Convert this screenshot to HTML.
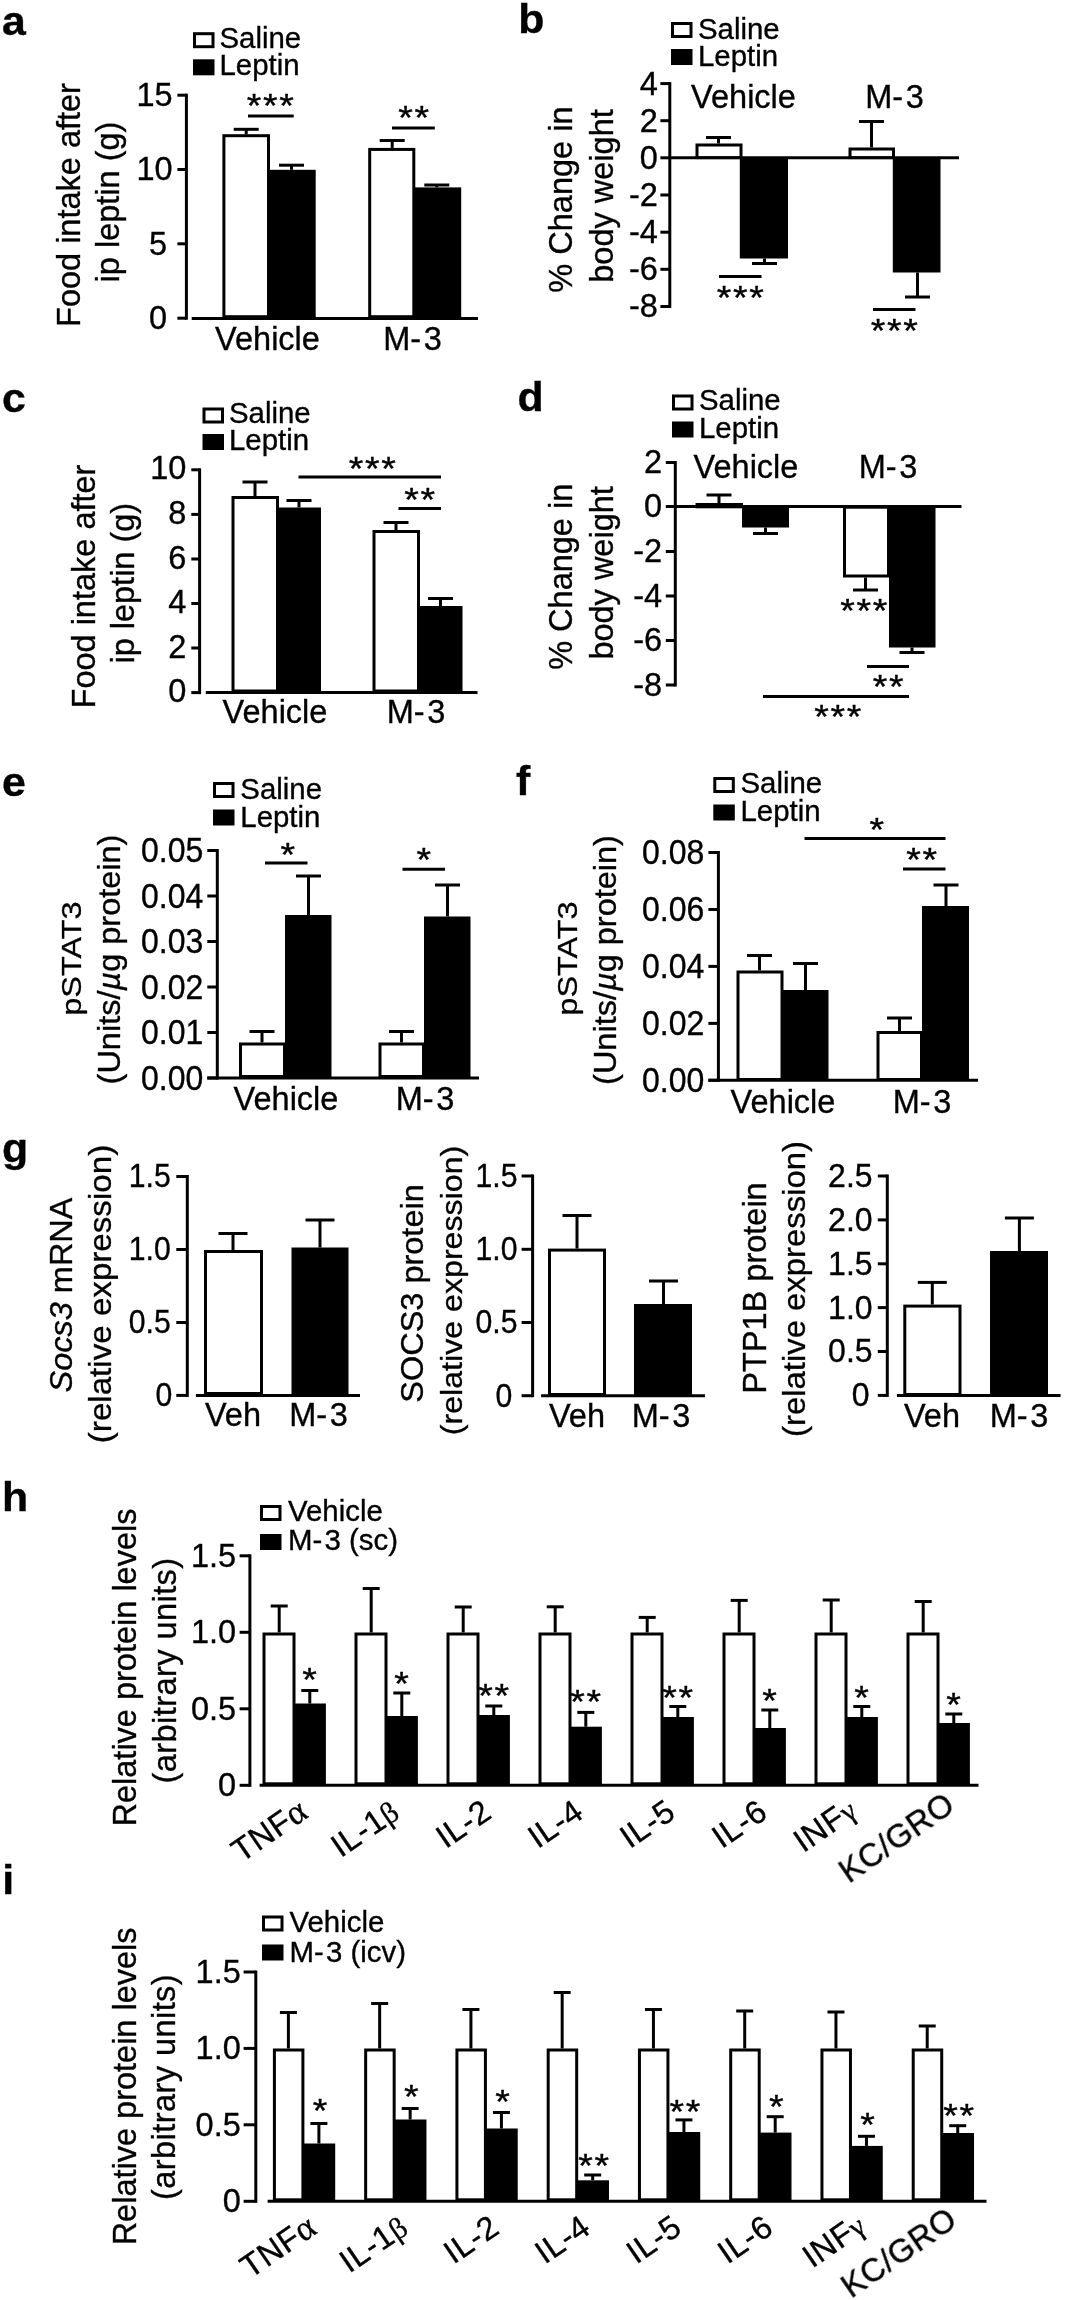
<!DOCTYPE html>
<html><head><meta charset="utf-8"><title>Figure</title>
<style>
html,body{margin:0;padding:0;background:#fff;}
svg{display:block;}
text{stroke:#000;stroke-width:0.35px;font-family:"Liberation Sans","DejaVu Sans",sans-serif;fill:#000;}
line{stroke:#000;stroke-linecap:butt;}
</style></head><body>
<svg width="1065" height="2300" viewBox="0 0 1065 2300">
<defs><filter id="soft" x="0" y="0" width="1065" height="2300" filterUnits="userSpaceOnUse"><feGaussianBlur stdDeviation="0.55"/></filter></defs>
<rect x="0" y="0" width="1065" height="2300" fill="#fff"/>
<g filter="url(#soft)">
<text transform="translate(2.00,34.50) scale(1.07,1)" font-size="40" text-anchor="start" font-weight="bold">a</text>
<rect x="194.50" y="33.70" width="18.50" height="13.00" fill="#fff" stroke="#000" stroke-width="3.0"/>
<rect x="193.00" y="59.30" width="21.50" height="16.00" fill="#000"/>
<text transform="translate(219.50,47.70) scale(1.0,1)" font-size="29.4" text-anchor="start">Saline</text>
<text transform="translate(219.50,75.20) scale(1.0,1)" font-size="29.4" text-anchor="start">Leptin</text>
<line x1="186.40" y1="93.70" x2="186.40" y2="319.70" stroke-width="3.0"/>
<line x1="177.40" y1="95.20" x2="186.40" y2="95.20" stroke-width="3.0"/>
<text transform="translate(172.60,106.10) scale(1.0,1)" font-size="32.5" text-anchor="end">15</text>
<line x1="177.40" y1="169.50" x2="186.40" y2="169.50" stroke-width="3.0"/>
<text transform="translate(172.60,180.40) scale(1.0,1)" font-size="32.5" text-anchor="end">10</text>
<line x1="177.40" y1="243.80" x2="186.40" y2="243.80" stroke-width="3.0"/>
<text transform="translate(167.20,254.70) scale(1.0,1)" font-size="32.5" text-anchor="end">5</text>
<line x1="177.40" y1="318.20" x2="186.40" y2="318.20" stroke-width="3.0"/>
<text transform="translate(167.20,329.10) scale(1.0,1)" font-size="32.5" text-anchor="end">0</text>
<line x1="191.70" y1="318.60" x2="478.00" y2="318.60" stroke-width="3.0"/>
<rect x="223.90" y="135.70" width="44.60" height="181.00" fill="#fff" stroke="#000" stroke-width="3.0"/>
<line x1="246.20" y1="134.20" x2="246.20" y2="129.30" stroke-width="3.0"/>
<line x1="233.70" y1="129.30" x2="258.70" y2="129.30" stroke-width="3.0"/>
<rect x="268.60" y="169.80" width="47.10" height="148.40" fill="#000"/>
<line x1="291.50" y1="169.80" x2="291.50" y2="165.20" stroke-width="3.0"/>
<line x1="279.00" y1="165.20" x2="304.00" y2="165.20" stroke-width="3.0"/>
<rect x="369.70" y="149.40" width="44.10" height="167.30" fill="#fff" stroke="#000" stroke-width="3.0"/>
<line x1="392.20" y1="147.90" x2="392.20" y2="140.50" stroke-width="3.0"/>
<line x1="379.70" y1="140.50" x2="404.70" y2="140.50" stroke-width="3.0"/>
<rect x="414.00" y="187.40" width="47.20" height="130.80" fill="#000"/>
<line x1="436.80" y1="187.40" x2="436.80" y2="185.00" stroke-width="3.0"/>
<line x1="424.30" y1="185.00" x2="449.30" y2="185.00" stroke-width="3.0"/>
<line x1="248.00" y1="116.10" x2="293.70" y2="116.10" stroke-width="3.0"/>
<text transform="translate(271.10,117.45) scale(1.12,1)" font-size="33.5" text-anchor="middle" letter-spacing="1.5">***</text>
<line x1="392.00" y1="127.90" x2="434.80" y2="127.90" stroke-width="3.0"/>
<text transform="translate(414.60,128.65) scale(1.12,1)" font-size="33.5" text-anchor="middle" letter-spacing="1.5">**</text>
<text transform="translate(267.50,349.50) scale(1.0,1)" font-size="32.5" text-anchor="middle">Vehicle</text>
<text transform="translate(412.50,349.50) scale(1.0,1)" font-size="32.5" text-anchor="middle">M-<tspan dx="2.6">3</tspan></text>
<text transform="translate(80.30,205.00) scale(1.0,1) rotate(-90)" font-size="32.5" text-anchor="middle">Food intake after</text>
<text transform="translate(118.90,202.00) scale(1.0,1) rotate(-90)" font-size="32.5" text-anchor="middle">ip leptin (g)</text>
<text transform="translate(518.30,33.40) scale(1.07,1)" font-size="40" text-anchor="start" font-weight="bold">b</text>
<rect x="672.50" y="23.50" width="18.50" height="13.00" fill="#fff" stroke="#000" stroke-width="3.0"/>
<rect x="671.00" y="49.00" width="21.50" height="16.00" fill="#000"/>
<text transform="translate(698.00,38.50) scale(1.0,1)" font-size="29.4" text-anchor="start">Saline</text>
<text transform="translate(698.00,65.50) scale(1.0,1)" font-size="29.4" text-anchor="start">Leptin</text>
<line x1="669.80" y1="82.10" x2="669.80" y2="308.00" stroke-width="3.0"/>
<line x1="660.40" y1="83.60" x2="669.80" y2="83.60" stroke-width="3.0"/>
<text transform="translate(657.80,94.50) scale(1.0,1)" font-size="32.5" text-anchor="end">4</text>
<line x1="660.40" y1="120.70" x2="669.80" y2="120.70" stroke-width="3.0"/>
<text transform="translate(657.80,131.60) scale(1.0,1)" font-size="32.5" text-anchor="end">2</text>
<line x1="660.40" y1="157.80" x2="669.80" y2="157.80" stroke-width="3.0"/>
<text transform="translate(657.80,168.70) scale(1.0,1)" font-size="32.5" text-anchor="end">0</text>
<line x1="660.40" y1="195.00" x2="669.80" y2="195.00" stroke-width="3.0"/>
<text transform="translate(657.80,205.90) scale(1.0,1)" font-size="32.5" text-anchor="end">-2</text>
<line x1="660.40" y1="232.20" x2="669.80" y2="232.20" stroke-width="3.0"/>
<text transform="translate(657.80,243.10) scale(1.0,1)" font-size="32.5" text-anchor="end">-4</text>
<line x1="660.40" y1="269.30" x2="669.80" y2="269.30" stroke-width="3.0"/>
<text transform="translate(657.80,280.20) scale(1.0,1)" font-size="32.5" text-anchor="end">-6</text>
<line x1="660.40" y1="306.50" x2="669.80" y2="306.50" stroke-width="3.0"/>
<text transform="translate(657.80,317.40) scale(1.0,1)" font-size="32.5" text-anchor="end">-8</text>
<line x1="668.30" y1="157.80" x2="959.00" y2="157.80" stroke-width="3.0"/>
<rect x="697.00" y="145.00" width="44.00" height="12.60" fill="#fff" stroke="#000" stroke-width="3.0"/>
<line x1="718.50" y1="143.50" x2="718.50" y2="137.50" stroke-width="3.0"/>
<line x1="706.00" y1="137.50" x2="731.00" y2="137.50" stroke-width="3.0"/>
<rect x="739.80" y="157.80" width="48.20" height="100.70" fill="#000"/>
<line x1="764.50" y1="258.50" x2="764.50" y2="263.50" stroke-width="3.0"/>
<line x1="752.00" y1="263.50" x2="777.00" y2="263.50" stroke-width="3.0"/>
<rect x="850.00" y="149.00" width="43.50" height="8.60" fill="#fff" stroke="#000" stroke-width="3.0"/>
<line x1="871.50" y1="147.50" x2="871.50" y2="121.50" stroke-width="3.0"/>
<line x1="859.00" y1="121.50" x2="884.00" y2="121.50" stroke-width="3.0"/>
<rect x="892.80" y="157.80" width="47.70" height="114.70" fill="#000"/>
<line x1="917.50" y1="272.50" x2="917.50" y2="297.00" stroke-width="3.0"/>
<line x1="905.00" y1="297.00" x2="930.00" y2="297.00" stroke-width="3.0"/>
<line x1="719.00" y1="276.50" x2="761.50" y2="276.50" stroke-width="3.0"/>
<text transform="translate(741.10,309.25) scale(1.12,1)" font-size="33.5" text-anchor="middle" letter-spacing="1.5">***</text>
<line x1="873.00" y1="309.50" x2="915.50" y2="309.50" stroke-width="3.0"/>
<text transform="translate(895.10,341.75) scale(1.12,1)" font-size="33.5" text-anchor="middle" letter-spacing="1.5">***</text>
<text transform="translate(743.50,108.00) scale(1.0,1)" font-size="32.5" text-anchor="middle">Vehicle</text>
<text transform="translate(894.50,108.00) scale(1.0,1)" font-size="32.5" text-anchor="middle">M-<tspan dx="2.6">3</tspan></text>
<text transform="translate(572.40,199.60) scale(1.0,1) rotate(-90)" font-size="32.5" text-anchor="middle">% Change in</text>
<text transform="translate(613.00,196.00) scale(1.0,1) rotate(-90)" font-size="32.5" text-anchor="middle">body weight</text>
<text transform="translate(2.00,412.00) scale(1.07,1)" font-size="40" text-anchor="start" font-weight="bold">c</text>
<rect x="204.00" y="409.00" width="18.50" height="13.00" fill="#fff" stroke="#000" stroke-width="3.0"/>
<rect x="202.50" y="434.00" width="21.50" height="16.00" fill="#000"/>
<text transform="translate(229.00,422.50) scale(1.0,1)" font-size="29.4" text-anchor="start">Saline</text>
<text transform="translate(229.00,450.00) scale(1.0,1)" font-size="29.4" text-anchor="start">Leptin</text>
<line x1="199.60" y1="468.30" x2="199.60" y2="694.10" stroke-width="3.0"/>
<line x1="191.30" y1="469.80" x2="199.60" y2="469.80" stroke-width="3.0"/>
<text transform="translate(186.30,479.40) scale(1.0,1)" font-size="32.5" text-anchor="end">10</text>
<line x1="191.30" y1="514.40" x2="199.60" y2="514.40" stroke-width="3.0"/>
<text transform="translate(186.30,524.00) scale(1.0,1)" font-size="32.5" text-anchor="end">8</text>
<line x1="191.30" y1="559.00" x2="199.60" y2="559.00" stroke-width="3.0"/>
<text transform="translate(186.30,568.60) scale(1.0,1)" font-size="32.5" text-anchor="end">6</text>
<line x1="191.30" y1="603.50" x2="199.60" y2="603.50" stroke-width="3.0"/>
<text transform="translate(186.30,613.10) scale(1.0,1)" font-size="32.5" text-anchor="end">4</text>
<line x1="191.30" y1="648.00" x2="199.60" y2="648.00" stroke-width="3.0"/>
<text transform="translate(186.30,657.60) scale(1.0,1)" font-size="32.5" text-anchor="end">2</text>
<line x1="191.30" y1="692.60" x2="199.60" y2="692.60" stroke-width="3.0"/>
<text transform="translate(186.30,702.20) scale(1.0,1)" font-size="32.5" text-anchor="end">0</text>
<line x1="205.80" y1="692.60" x2="477.50" y2="692.60" stroke-width="3.0"/>
<rect x="233.00" y="497.50" width="44.50" height="193.50" fill="#fff" stroke="#000" stroke-width="3.0"/>
<line x1="255.00" y1="496.00" x2="255.00" y2="482.00" stroke-width="3.0"/>
<line x1="242.50" y1="482.00" x2="267.50" y2="482.00" stroke-width="3.0"/>
<rect x="278.00" y="507.50" width="43.00" height="185.00" fill="#000"/>
<line x1="299.00" y1="507.50" x2="299.00" y2="500.50" stroke-width="3.0"/>
<line x1="286.50" y1="500.50" x2="311.50" y2="500.50" stroke-width="3.0"/>
<rect x="374.00" y="531.50" width="44.50" height="159.50" fill="#fff" stroke="#000" stroke-width="3.0"/>
<line x1="396.00" y1="530.00" x2="396.00" y2="522.50" stroke-width="3.0"/>
<line x1="383.50" y1="522.50" x2="408.50" y2="522.50" stroke-width="3.0"/>
<rect x="419.00" y="606.00" width="43.50" height="86.50" fill="#000"/>
<line x1="440.50" y1="606.00" x2="440.50" y2="598.50" stroke-width="3.0"/>
<line x1="428.00" y1="598.50" x2="453.00" y2="598.50" stroke-width="3.0"/>
<line x1="298.50" y1="477.00" x2="441.00" y2="477.00" stroke-width="3.0"/>
<text transform="translate(373.10,480.25) scale(1.12,1)" font-size="33.5" text-anchor="middle" letter-spacing="1.5">***</text>
<line x1="398.50" y1="508.50" x2="441.00" y2="508.50" stroke-width="3.0"/>
<text transform="translate(420.60,510.75) scale(1.12,1)" font-size="33.5" text-anchor="middle" letter-spacing="1.5">**</text>
<text transform="translate(275.00,723.00) scale(1.0,1)" font-size="32.5" text-anchor="middle">Vehicle</text>
<text transform="translate(416.00,723.00) scale(1.0,1)" font-size="32.5" text-anchor="middle">M-<tspan dx="2.6">3</tspan></text>
<text transform="translate(94.70,586.50) scale(1.0,1) rotate(-90)" font-size="32.5" text-anchor="middle">Food intake after</text>
<text transform="translate(134.00,583.20) scale(1.0,1) rotate(-90)" font-size="32.5" text-anchor="middle">ip leptin (g)</text>
<text transform="translate(517.50,411.30) scale(1.07,1)" font-size="40" text-anchor="start" font-weight="bold">d</text>
<rect x="673.50" y="396.00" width="18.50" height="13.00" fill="#fff" stroke="#000" stroke-width="3.0"/>
<rect x="672.00" y="421.50" width="21.50" height="16.00" fill="#000"/>
<text transform="translate(699.00,410.00) scale(1.0,1)" font-size="29.4" text-anchor="start">Saline</text>
<text transform="translate(699.00,437.50) scale(1.0,1)" font-size="29.4" text-anchor="start">Leptin</text>
<line x1="675.30" y1="461.00" x2="675.30" y2="686.50" stroke-width="3.0"/>
<line x1="665.80" y1="462.50" x2="675.30" y2="462.50" stroke-width="3.0"/>
<text transform="translate(662.10,473.40) scale(1.0,1)" font-size="32.5" text-anchor="end">2</text>
<line x1="665.80" y1="506.50" x2="675.30" y2="506.50" stroke-width="3.0"/>
<text transform="translate(662.10,517.40) scale(1.0,1)" font-size="32.5" text-anchor="end">0</text>
<line x1="665.80" y1="551.50" x2="675.30" y2="551.50" stroke-width="3.0"/>
<text transform="translate(662.10,562.40) scale(1.0,1)" font-size="32.5" text-anchor="end">-2</text>
<line x1="665.80" y1="596.00" x2="675.30" y2="596.00" stroke-width="3.0"/>
<text transform="translate(662.10,606.90) scale(1.0,1)" font-size="32.5" text-anchor="end">-4</text>
<line x1="665.80" y1="640.50" x2="675.30" y2="640.50" stroke-width="3.0"/>
<text transform="translate(662.10,651.40) scale(1.0,1)" font-size="32.5" text-anchor="end">-6</text>
<line x1="665.80" y1="685.00" x2="675.30" y2="685.00" stroke-width="3.0"/>
<text transform="translate(662.10,695.90) scale(1.0,1)" font-size="32.5" text-anchor="end">-8</text>
<line x1="673.80" y1="506.50" x2="961.50" y2="506.50" stroke-width="3.0"/>
<rect x="697.00" y="504.50" width="44.50" height="2.30" fill="#fff" stroke="#000" stroke-width="3.0"/>
<line x1="719.00" y1="503.00" x2="719.00" y2="495.00" stroke-width="3.0"/>
<line x1="706.50" y1="495.00" x2="731.50" y2="495.00" stroke-width="3.0"/>
<rect x="742.00" y="507.00" width="47.00" height="20.50" fill="#000"/>
<line x1="765.50" y1="527.50" x2="765.50" y2="533.50" stroke-width="3.0"/>
<line x1="753.00" y1="533.50" x2="778.00" y2="533.50" stroke-width="3.0"/>
<rect x="844.50" y="507.20" width="44.00" height="68.80" fill="#fff" stroke="#000" stroke-width="3.0"/>
<line x1="865.50" y1="577.50" x2="865.50" y2="590.00" stroke-width="3.0"/>
<line x1="853.00" y1="590.00" x2="878.00" y2="590.00" stroke-width="3.0"/>
<rect x="889.00" y="507.00" width="46.50" height="140.50" fill="#000"/>
<line x1="912.00" y1="647.50" x2="912.00" y2="652.50" stroke-width="3.0"/>
<line x1="899.50" y1="652.50" x2="924.50" y2="652.50" stroke-width="3.0"/>
<text transform="translate(864.60,621.75) scale(1.12,1)" font-size="33.5" text-anchor="middle" letter-spacing="1.5">***</text>
<line x1="867.00" y1="666.50" x2="909.00" y2="666.50" stroke-width="3.0"/>
<text transform="translate(889.10,698.25) scale(1.12,1)" font-size="33.5" text-anchor="middle" letter-spacing="1.5">**</text>
<line x1="763.00" y1="696.50" x2="909.00" y2="696.50" stroke-width="3.0"/>
<text transform="translate(838.60,728.25) scale(1.12,1)" font-size="33.5" text-anchor="middle" letter-spacing="1.5">***</text>
<text transform="translate(746.00,478.00) scale(1.0,1)" font-size="32.5" text-anchor="middle">Vehicle</text>
<text transform="translate(888.00,478.00) scale(1.0,1)" font-size="32.5" text-anchor="middle">M-<tspan dx="2.6">3</tspan></text>
<text transform="translate(572.40,576.80) scale(1.0,1) rotate(-90)" font-size="32.5" text-anchor="middle">% Change in</text>
<text transform="translate(613.00,572.90) scale(1.0,1) rotate(-90)" font-size="32.5" text-anchor="middle">body weight</text>
<text transform="translate(2.00,796.00) scale(1.07,1)" font-size="40" text-anchor="start" font-weight="bold">e</text>
<rect x="214.50" y="783.50" width="18.50" height="13.00" fill="#fff" stroke="#000" stroke-width="3.0"/>
<rect x="213.00" y="809.50" width="21.50" height="16.00" fill="#000"/>
<text transform="translate(240.30,799.00) scale(1.0,1)" font-size="29.4" text-anchor="start">Saline</text>
<text transform="translate(240.30,826.50) scale(1.0,1)" font-size="29.4" text-anchor="start">Leptin</text>
<line x1="217.30" y1="849.00" x2="217.30" y2="1079.50" stroke-width="3.0"/>
<line x1="207.30" y1="850.50" x2="217.30" y2="850.50" stroke-width="3.0"/>
<text transform="translate(203.30,862.17) scale(0.92,1)" font-size="34.8" text-anchor="end">0.05</text>
<line x1="207.30" y1="896.00" x2="217.30" y2="896.00" stroke-width="3.0"/>
<text transform="translate(203.30,907.67) scale(0.92,1)" font-size="34.8" text-anchor="end">0.04</text>
<line x1="207.30" y1="941.50" x2="217.30" y2="941.50" stroke-width="3.0"/>
<text transform="translate(203.30,953.17) scale(0.92,1)" font-size="34.8" text-anchor="end">0.03</text>
<line x1="207.30" y1="987.00" x2="217.30" y2="987.00" stroke-width="3.0"/>
<text transform="translate(203.30,998.67) scale(0.92,1)" font-size="34.8" text-anchor="end">0.02</text>
<line x1="207.30" y1="1032.50" x2="217.30" y2="1032.50" stroke-width="3.0"/>
<text transform="translate(203.30,1044.17) scale(0.92,1)" font-size="34.8" text-anchor="end">0.01</text>
<line x1="207.30" y1="1078.00" x2="217.30" y2="1078.00" stroke-width="3.0"/>
<text transform="translate(203.30,1089.67) scale(0.92,1)" font-size="34.8" text-anchor="end">0.00</text>
<line x1="207.30" y1="1078.00" x2="479.00" y2="1078.00" stroke-width="3.0"/>
<rect x="240.50" y="1044.00" width="44.00" height="32.50" fill="#fff" stroke="#000" stroke-width="3.0"/>
<line x1="262.00" y1="1042.50" x2="262.00" y2="1031.50" stroke-width="3.0"/>
<line x1="249.50" y1="1031.50" x2="274.50" y2="1031.50" stroke-width="3.0"/>
<rect x="285.00" y="915.00" width="46.50" height="163.00" fill="#000"/>
<line x1="308.50" y1="915.00" x2="308.50" y2="876.00" stroke-width="3.0"/>
<line x1="296.00" y1="876.00" x2="321.00" y2="876.00" stroke-width="3.0"/>
<rect x="380.00" y="1044.00" width="43.50" height="32.50" fill="#fff" stroke="#000" stroke-width="3.0"/>
<line x1="401.50" y1="1042.50" x2="401.50" y2="1031.50" stroke-width="3.0"/>
<line x1="389.00" y1="1031.50" x2="414.00" y2="1031.50" stroke-width="3.0"/>
<rect x="424.00" y="916.50" width="46.50" height="161.50" fill="#000"/>
<line x1="447.50" y1="916.50" x2="447.50" y2="885.00" stroke-width="3.0"/>
<line x1="435.00" y1="885.00" x2="460.00" y2="885.00" stroke-width="3.0"/>
<line x1="265.00" y1="863.00" x2="307.50" y2="863.00" stroke-width="3.0"/>
<text transform="translate(288.60,865.75) scale(1.12,1)" font-size="33.5" text-anchor="middle" letter-spacing="1.5">*</text>
<line x1="402.50" y1="869.30" x2="445.00" y2="869.30" stroke-width="3.0"/>
<text transform="translate(424.60,871.25) scale(1.12,1)" font-size="33.5" text-anchor="middle" letter-spacing="1.5">*</text>
<text transform="translate(286.00,1110.00) scale(1.0,1)" font-size="32.5" text-anchor="middle">Vehicle</text>
<text transform="translate(425.00,1110.00) scale(1.0,1)" font-size="32.5" text-anchor="middle">M-<tspan dx="2.6">3</tspan></text>
<text transform="translate(81.30,958.60) scale(0.83,1) rotate(-90)" font-size="32.5" text-anchor="middle">pSTAT3</text>
<text transform="translate(119.50,959.50) scale(0.94,1) rotate(-90)" font-size="32.5" text-anchor="middle">(Units/<tspan font-style="italic">µ</tspan>g protein)</text>
<text transform="translate(516.00,795.00) scale(1.07,1)" font-size="40" text-anchor="start" font-weight="bold">f</text>
<rect x="714.80" y="778.50" width="18.50" height="13.00" fill="#fff" stroke="#000" stroke-width="3.0"/>
<rect x="713.30" y="804.50" width="21.50" height="16.00" fill="#000"/>
<text transform="translate(740.50,793.20) scale(1.0,1)" font-size="29.4" text-anchor="start">Saline</text>
<text transform="translate(740.50,821.00) scale(1.0,1)" font-size="29.4" text-anchor="start">Leptin</text>
<line x1="718.40" y1="851.00" x2="718.40" y2="1081.80" stroke-width="3.0"/>
<line x1="708.40" y1="852.50" x2="718.40" y2="852.50" stroke-width="3.0"/>
<text transform="translate(704.30,864.17) scale(0.92,1)" font-size="34.8" text-anchor="end">0.08</text>
<line x1="708.40" y1="909.50" x2="718.40" y2="909.50" stroke-width="3.0"/>
<text transform="translate(704.30,921.17) scale(0.92,1)" font-size="34.8" text-anchor="end">0.06</text>
<line x1="708.40" y1="966.40" x2="718.40" y2="966.40" stroke-width="3.0"/>
<text transform="translate(704.30,978.07) scale(0.92,1)" font-size="34.8" text-anchor="end">0.04</text>
<line x1="708.40" y1="1023.40" x2="718.40" y2="1023.40" stroke-width="3.0"/>
<text transform="translate(704.30,1035.07) scale(0.92,1)" font-size="34.8" text-anchor="end">0.02</text>
<line x1="708.40" y1="1080.30" x2="718.40" y2="1080.30" stroke-width="3.0"/>
<text transform="translate(704.30,1091.97) scale(0.92,1)" font-size="34.8" text-anchor="end">0.00</text>
<line x1="708.40" y1="1080.30" x2="978.00" y2="1080.30" stroke-width="3.0"/>
<rect x="738.00" y="972.00" width="44.00" height="107.50" fill="#fff" stroke="#000" stroke-width="3.0"/>
<line x1="759.50" y1="970.50" x2="759.50" y2="955.50" stroke-width="3.0"/>
<line x1="747.00" y1="955.50" x2="772.00" y2="955.50" stroke-width="3.0"/>
<rect x="782.50" y="990.00" width="46.00" height="91.00" fill="#000"/>
<line x1="805.50" y1="990.00" x2="805.50" y2="963.50" stroke-width="3.0"/>
<line x1="793.00" y1="963.50" x2="818.00" y2="963.50" stroke-width="3.0"/>
<rect x="878.00" y="1032.50" width="43.50" height="47.00" fill="#fff" stroke="#000" stroke-width="3.0"/>
<line x1="899.50" y1="1031.00" x2="899.50" y2="1018.00" stroke-width="3.0"/>
<line x1="887.00" y1="1018.00" x2="912.00" y2="1018.00" stroke-width="3.0"/>
<rect x="922.00" y="906.00" width="47.00" height="175.00" fill="#000"/>
<line x1="946.00" y1="906.00" x2="946.00" y2="885.00" stroke-width="3.0"/>
<line x1="933.50" y1="885.00" x2="958.50" y2="885.00" stroke-width="3.0"/>
<line x1="804.50" y1="838.50" x2="945.50" y2="838.50" stroke-width="3.0"/>
<text transform="translate(877.60,840.75) scale(1.12,1)" font-size="33.5" text-anchor="middle" letter-spacing="1.5">*</text>
<line x1="903.00" y1="869.00" x2="945.50" y2="869.00" stroke-width="3.0"/>
<text transform="translate(922.60,870.75) scale(1.12,1)" font-size="33.5" text-anchor="middle" letter-spacing="1.5">**</text>
<text transform="translate(783.00,1113.00) scale(1.0,1)" font-size="32.5" text-anchor="middle">Vehicle</text>
<text transform="translate(922.00,1113.00) scale(1.0,1)" font-size="32.5" text-anchor="middle">M-<tspan dx="2.6">3</tspan></text>
<text transform="translate(577.10,958.50) scale(0.83,1) rotate(-90)" font-size="32.5" text-anchor="middle">pSTAT3</text>
<text transform="translate(616.20,960.00) scale(0.94,1) rotate(-90)" font-size="32.5" text-anchor="middle">(Units/<tspan font-style="italic">µ</tspan>g protein)</text>
<text transform="translate(2.00,1162.00) scale(1.07,1)" font-size="40" text-anchor="start" font-weight="bold">g</text>
<line x1="187.30" y1="1175.00" x2="187.30" y2="1396.90" stroke-width="3.0"/>
<line x1="176.30" y1="1176.50" x2="187.30" y2="1176.50" stroke-width="3.0"/>
<text transform="translate(170.80,1187.40) scale(0.93,1)" font-size="32.5" text-anchor="end">1.5</text>
<line x1="176.30" y1="1249.50" x2="187.30" y2="1249.50" stroke-width="3.0"/>
<text transform="translate(170.80,1260.40) scale(0.93,1)" font-size="32.5" text-anchor="end">1.0</text>
<line x1="176.30" y1="1322.50" x2="187.30" y2="1322.50" stroke-width="3.0"/>
<text transform="translate(170.80,1333.40) scale(0.93,1)" font-size="32.5" text-anchor="end">0.5</text>
<line x1="176.30" y1="1395.40" x2="187.30" y2="1395.40" stroke-width="3.0"/>
<text transform="translate(172.30,1406.30) scale(0.93,1)" font-size="32.5" text-anchor="end">0</text>
<line x1="195.90" y1="1395.40" x2="360.00" y2="1395.40" stroke-width="3.0"/>
<rect x="205.50" y="1251.50" width="56.00" height="142.00" fill="#fff" stroke="#000" stroke-width="3.0"/>
<line x1="233.00" y1="1250.00" x2="233.00" y2="1233.50" stroke-width="3.0"/>
<line x1="218.50" y1="1233.50" x2="247.50" y2="1233.50" stroke-width="3.0"/>
<rect x="291.50" y="1247.50" width="57.00" height="147.50" fill="#000"/>
<line x1="320.00" y1="1247.50" x2="320.00" y2="1220.00" stroke-width="3.0"/>
<line x1="305.50" y1="1220.00" x2="334.50" y2="1220.00" stroke-width="3.0"/>
<text transform="translate(233.00,1426.00) scale(1.0,1)" font-size="32.5" text-anchor="middle">Veh</text>
<text transform="translate(318.50,1426.00) scale(1.0,1)" font-size="32.5" text-anchor="middle">M-<tspan dx="2.6">3</tspan></text>
<text transform="translate(72.30,1295.00) scale(0.95,1) rotate(-90)" font-size="32.5" text-anchor="middle"><tspan font-style="italic">Socs3</tspan> mRNA</text>
<text transform="translate(110.50,1294.00) scale(0.93,1) rotate(-90)" font-size="33.15" text-anchor="middle">(relative expression)</text>
<line x1="532.60" y1="1174.50" x2="532.60" y2="1397.20" stroke-width="3.0"/>
<line x1="521.60" y1="1176.00" x2="532.60" y2="1176.00" stroke-width="3.0"/>
<text transform="translate(517.50,1186.90) scale(0.93,1)" font-size="32.5" text-anchor="end">1.5</text>
<line x1="521.60" y1="1249.30" x2="532.60" y2="1249.30" stroke-width="3.0"/>
<text transform="translate(517.50,1260.20) scale(0.93,1)" font-size="32.5" text-anchor="end">1.0</text>
<line x1="521.60" y1="1322.50" x2="532.60" y2="1322.50" stroke-width="3.0"/>
<text transform="translate(517.50,1333.40) scale(0.93,1)" font-size="32.5" text-anchor="end">0.5</text>
<line x1="521.60" y1="1395.70" x2="532.60" y2="1395.70" stroke-width="3.0"/>
<text transform="translate(512.30,1406.60) scale(0.93,1)" font-size="32.5" text-anchor="end">0</text>
<line x1="541.10" y1="1395.70" x2="705.00" y2="1395.70" stroke-width="3.0"/>
<rect x="549.50" y="1250.10" width="55.00" height="144.40" fill="#fff" stroke="#000" stroke-width="3.0"/>
<line x1="577.00" y1="1248.60" x2="577.00" y2="1215.50" stroke-width="3.0"/>
<line x1="562.50" y1="1215.50" x2="591.50" y2="1215.50" stroke-width="3.0"/>
<rect x="634.00" y="1304.00" width="58.00" height="92.00" fill="#000"/>
<line x1="663.50" y1="1304.00" x2="663.50" y2="1281.00" stroke-width="3.0"/>
<line x1="649.00" y1="1281.00" x2="678.00" y2="1281.00" stroke-width="3.0"/>
<text transform="translate(577.00,1426.60) scale(1.0,1)" font-size="32.5" text-anchor="middle">Veh</text>
<text transform="translate(661.00,1426.60) scale(1.0,1)" font-size="32.5" text-anchor="middle">M-<tspan dx="2.6">3</tspan></text>
<text transform="translate(423.00,1293.50) scale(0.95,1) rotate(-90)" font-size="32.5" text-anchor="middle">SOCS3 protein</text>
<text transform="translate(461.50,1290.50) scale(0.93,1) rotate(-90)" font-size="32.175" text-anchor="middle">(relative expression)</text>
<line x1="887.30" y1="1174.50" x2="887.30" y2="1396.90" stroke-width="3.0"/>
<line x1="877.80" y1="1176.00" x2="887.30" y2="1176.00" stroke-width="3.0"/>
<text transform="translate(872.60,1186.90) scale(0.985,1)" font-size="32.5" text-anchor="end">2.5</text>
<line x1="877.80" y1="1219.90" x2="887.30" y2="1219.90" stroke-width="3.0"/>
<text transform="translate(872.60,1230.80) scale(0.985,1)" font-size="32.5" text-anchor="end">2.0</text>
<line x1="877.80" y1="1263.80" x2="887.30" y2="1263.80" stroke-width="3.0"/>
<text transform="translate(872.60,1274.70) scale(0.985,1)" font-size="32.5" text-anchor="end">1.5</text>
<line x1="877.80" y1="1307.60" x2="887.30" y2="1307.60" stroke-width="3.0"/>
<text transform="translate(872.60,1318.50) scale(0.985,1)" font-size="32.5" text-anchor="end">1.0</text>
<line x1="877.80" y1="1351.50" x2="887.30" y2="1351.50" stroke-width="3.0"/>
<text transform="translate(872.60,1362.40) scale(0.985,1)" font-size="32.5" text-anchor="end">0.5</text>
<line x1="877.80" y1="1395.40" x2="887.30" y2="1395.40" stroke-width="3.0"/>
<text transform="translate(869.60,1406.30) scale(0.985,1)" font-size="32.5" text-anchor="end">0</text>
<line x1="896.90" y1="1395.40" x2="1060.60" y2="1395.40" stroke-width="3.0"/>
<rect x="904.80" y="1306.10" width="55.20" height="88.40" fill="#fff" stroke="#000" stroke-width="3.0"/>
<line x1="932.30" y1="1304.60" x2="932.30" y2="1282.40" stroke-width="3.0"/>
<line x1="917.80" y1="1282.40" x2="946.80" y2="1282.40" stroke-width="3.0"/>
<rect x="990.00" y="1251.00" width="58.00" height="145.00" fill="#000"/>
<line x1="1019.40" y1="1251.00" x2="1019.40" y2="1218.00" stroke-width="3.0"/>
<line x1="1004.90" y1="1218.00" x2="1033.90" y2="1218.00" stroke-width="3.0"/>
<text transform="translate(932.00,1426.60) scale(1.0,1)" font-size="32.5" text-anchor="middle">Veh</text>
<text transform="translate(1019.00,1426.60) scale(1.0,1)" font-size="32.5" text-anchor="middle">M-<tspan dx="2.6">3</tspan></text>
<text transform="translate(766.00,1288.00) scale(1.0,1) rotate(-90)" font-size="32.5" text-anchor="middle">PTP1B protein</text>
<text transform="translate(805.00,1289.00) scale(0.93,1) rotate(-90)" font-size="32.89" text-anchor="middle">(relative expression)</text>
<text transform="translate(2.00,1511.00) scale(1.07,1)" font-size="40" text-anchor="start" font-weight="bold">h</text>
<rect x="261.50" y="1506.50" width="18.50" height="13.00" fill="#fff" stroke="#000" stroke-width="3.0"/>
<rect x="260.00" y="1534.00" width="21.50" height="16.00" fill="#000"/>
<text transform="translate(288.00,1521.00) scale(1.0,1)" font-size="29.4" text-anchor="start">Vehicle</text>
<text transform="translate(288.00,1550.00) scale(1.0,1)" font-size="29.4" text-anchor="start">M-<tspan dx="2.2">3</tspan> (sc)</text>
<line x1="249.90" y1="1554.30" x2="249.90" y2="1786.80" stroke-width="3.0"/>
<line x1="239.60" y1="1555.80" x2="249.90" y2="1555.80" stroke-width="3.0"/>
<text transform="translate(236.10,1566.70) scale(1.0,1)" font-size="32.5" text-anchor="end">1.5</text>
<line x1="239.60" y1="1632.30" x2="249.90" y2="1632.30" stroke-width="3.0"/>
<text transform="translate(236.10,1643.20) scale(1.0,1)" font-size="32.5" text-anchor="end">1.0</text>
<line x1="239.60" y1="1708.80" x2="249.90" y2="1708.80" stroke-width="3.0"/>
<text transform="translate(236.10,1719.70) scale(1.0,1)" font-size="32.5" text-anchor="end">0.5</text>
<line x1="239.60" y1="1785.30" x2="249.90" y2="1785.30" stroke-width="3.0"/>
<text transform="translate(236.10,1796.20) scale(1.0,1)" font-size="32.5" text-anchor="end">0</text>
<line x1="259.60" y1="1785.30" x2="978.50" y2="1785.30" stroke-width="3.0"/>
<rect x="264.00" y="1634.00" width="30.00" height="149.80" fill="#fff" stroke="#000" stroke-width="3.0"/>
<line x1="279.20" y1="1632.50" x2="279.20" y2="1606.00" stroke-width="3.0"/>
<line x1="270.70" y1="1606.00" x2="287.70" y2="1606.00" stroke-width="3.0"/>
<rect x="293.50" y="1703.50" width="32.40" height="81.80" fill="#000"/>
<line x1="309.80" y1="1703.50" x2="309.80" y2="1690.50" stroke-width="3.0"/>
<line x1="301.30" y1="1690.50" x2="318.30" y2="1690.50" stroke-width="3.0"/>
<text transform="translate(310.40,1690.75) scale(1.12,1)" font-size="33.5" text-anchor="middle" letter-spacing="1.5">*</text>
<text transform="translate(310.00,1816.00) scale(1.0,1) rotate(-34.5)" font-size="32.5" text-anchor="end" letter-spacing="0.5">TNF<tspan font-family="Liberation Serif, DejaVu Serif, serif" font-size="35">α</tspan></text>
<rect x="356.00" y="1634.00" width="30.00" height="149.80" fill="#fff" stroke="#000" stroke-width="3.0"/>
<line x1="371.20" y1="1632.50" x2="371.20" y2="1588.50" stroke-width="3.0"/>
<line x1="362.70" y1="1588.50" x2="379.70" y2="1588.50" stroke-width="3.0"/>
<rect x="385.50" y="1716.00" width="32.40" height="69.30" fill="#000"/>
<line x1="401.80" y1="1716.00" x2="401.80" y2="1693.00" stroke-width="3.0"/>
<line x1="393.30" y1="1693.00" x2="410.30" y2="1693.00" stroke-width="3.0"/>
<text transform="translate(402.40,1695.25) scale(1.12,1)" font-size="33.5" text-anchor="middle" letter-spacing="1.5">*</text>
<text transform="translate(401.50,1816.50) scale(1.0,1) rotate(-34.5)" font-size="32.5" text-anchor="end" letter-spacing="0.5">IL-1<tspan font-family="Liberation Serif, DejaVu Serif, serif" font-size="30">β</tspan></text>
<rect x="448.00" y="1634.00" width="30.00" height="149.80" fill="#fff" stroke="#000" stroke-width="3.0"/>
<line x1="463.20" y1="1632.50" x2="463.20" y2="1607.00" stroke-width="3.0"/>
<line x1="454.70" y1="1607.00" x2="471.70" y2="1607.00" stroke-width="3.0"/>
<rect x="477.50" y="1715.00" width="32.40" height="70.30" fill="#000"/>
<line x1="493.80" y1="1715.00" x2="493.80" y2="1706.00" stroke-width="3.0"/>
<line x1="485.30" y1="1706.00" x2="502.30" y2="1706.00" stroke-width="3.0"/>
<text transform="translate(494.40,1706.75) scale(1.12,1)" font-size="33.5" text-anchor="middle" letter-spacing="1.5">**</text>
<text transform="translate(493.50,1816.50) scale(1.0,1) rotate(-34.5)" font-size="32.5" text-anchor="end" letter-spacing="0.5">IL-2</text>
<rect x="540.00" y="1634.00" width="30.00" height="149.80" fill="#fff" stroke="#000" stroke-width="3.0"/>
<line x1="555.20" y1="1632.50" x2="555.20" y2="1606.80" stroke-width="3.0"/>
<line x1="546.70" y1="1606.80" x2="563.70" y2="1606.80" stroke-width="3.0"/>
<rect x="569.50" y="1726.70" width="32.40" height="58.60" fill="#000"/>
<line x1="585.80" y1="1726.70" x2="585.80" y2="1712.40" stroke-width="3.0"/>
<line x1="577.30" y1="1712.40" x2="594.30" y2="1712.40" stroke-width="3.0"/>
<text transform="translate(586.40,1713.15) scale(1.12,1)" font-size="33.5" text-anchor="middle" letter-spacing="1.5">**</text>
<text transform="translate(585.50,1816.50) scale(1.0,1) rotate(-34.5)" font-size="32.5" text-anchor="end" letter-spacing="0.5">IL-4</text>
<rect x="632.00" y="1634.00" width="30.00" height="149.80" fill="#fff" stroke="#000" stroke-width="3.0"/>
<line x1="647.20" y1="1632.50" x2="647.20" y2="1617.40" stroke-width="3.0"/>
<line x1="638.70" y1="1617.40" x2="655.70" y2="1617.40" stroke-width="3.0"/>
<rect x="661.50" y="1717.00" width="32.40" height="68.30" fill="#000"/>
<line x1="677.80" y1="1717.00" x2="677.80" y2="1706.50" stroke-width="3.0"/>
<line x1="669.30" y1="1706.50" x2="686.30" y2="1706.50" stroke-width="3.0"/>
<text transform="translate(678.40,1708.75) scale(1.12,1)" font-size="33.5" text-anchor="middle" letter-spacing="1.5">**</text>
<text transform="translate(677.50,1816.50) scale(1.0,1) rotate(-34.5)" font-size="32.5" text-anchor="end" letter-spacing="0.5">IL-5</text>
<rect x="724.00" y="1634.00" width="30.00" height="149.80" fill="#fff" stroke="#000" stroke-width="3.0"/>
<line x1="739.20" y1="1632.50" x2="739.20" y2="1600.40" stroke-width="3.0"/>
<line x1="730.70" y1="1600.40" x2="747.70" y2="1600.40" stroke-width="3.0"/>
<rect x="753.50" y="1728.00" width="32.40" height="57.30" fill="#000"/>
<line x1="769.80" y1="1728.00" x2="769.80" y2="1710.00" stroke-width="3.0"/>
<line x1="761.30" y1="1710.00" x2="778.30" y2="1710.00" stroke-width="3.0"/>
<text transform="translate(770.40,1711.75) scale(1.12,1)" font-size="33.5" text-anchor="middle" letter-spacing="1.5">*</text>
<text transform="translate(769.50,1816.50) scale(1.0,1) rotate(-34.5)" font-size="32.5" text-anchor="end" letter-spacing="0.5">IL-6</text>
<rect x="816.00" y="1634.00" width="30.00" height="149.80" fill="#fff" stroke="#000" stroke-width="3.0"/>
<line x1="831.20" y1="1632.50" x2="831.20" y2="1600.00" stroke-width="3.0"/>
<line x1="822.70" y1="1600.00" x2="839.70" y2="1600.00" stroke-width="3.0"/>
<rect x="845.50" y="1717.00" width="32.40" height="68.30" fill="#000"/>
<line x1="861.80" y1="1717.00" x2="861.80" y2="1706.50" stroke-width="3.0"/>
<line x1="853.30" y1="1706.50" x2="870.30" y2="1706.50" stroke-width="3.0"/>
<text transform="translate(862.40,1708.75) scale(1.12,1)" font-size="33.5" text-anchor="middle" letter-spacing="1.5">*</text>
<text transform="translate(859.00,1815.00) scale(1.0,1) rotate(-34.5)" font-size="32.5" text-anchor="end" letter-spacing="0.5">INF<tspan font-family="Liberation Serif, DejaVu Serif, serif" font-size="30">γ</tspan></text>
<rect x="908.00" y="1634.00" width="30.00" height="149.80" fill="#fff" stroke="#000" stroke-width="3.0"/>
<line x1="923.20" y1="1632.50" x2="923.20" y2="1601.50" stroke-width="3.0"/>
<line x1="914.70" y1="1601.50" x2="931.70" y2="1601.50" stroke-width="3.0"/>
<rect x="937.50" y="1723.00" width="32.40" height="62.30" fill="#000"/>
<line x1="953.80" y1="1723.00" x2="953.80" y2="1714.00" stroke-width="3.0"/>
<line x1="945.30" y1="1714.00" x2="962.30" y2="1714.00" stroke-width="3.0"/>
<text transform="translate(954.40,1715.75) scale(1.12,1)" font-size="33.5" text-anchor="middle" letter-spacing="1.5">*</text>
<text transform="translate(957.00,1809.50) scale(1.0,1) rotate(-34.5)" font-size="32.5" text-anchor="end" letter-spacing="0.5">KC/GRO</text>
<text transform="translate(136.00,1667.50) scale(1.0,1) rotate(-90)" font-size="32.5" text-anchor="middle">Relative protein levels</text>
<text transform="translate(175.50,1670.50) scale(1.0,1) rotate(-90)" font-size="32.5" text-anchor="middle" letter-spacing="0.45">(arbitrary units)</text>
<text transform="translate(2.30,1894.20) scale(1.07,1)" font-size="40" text-anchor="start" font-weight="bold">i</text>
<rect x="263.50" y="1917.00" width="18.50" height="13.00" fill="#fff" stroke="#000" stroke-width="3.0"/>
<rect x="262.00" y="1944.50" width="21.50" height="16.00" fill="#000"/>
<text transform="translate(289.50,1932.00) scale(1.0,1)" font-size="29.4" text-anchor="start">Vehicle</text>
<text transform="translate(289.50,1961.50) scale(1.0,1)" font-size="29.4" text-anchor="start">M-<tspan dx="2.2">3</tspan> (icv)</text>
<line x1="255.80" y1="1970.50" x2="255.80" y2="2202.80" stroke-width="3.0"/>
<line x1="243.60" y1="1972.00" x2="255.80" y2="1972.00" stroke-width="3.0"/>
<text transform="translate(240.80,1982.90) scale(1.0,1)" font-size="32.5" text-anchor="end">1.5</text>
<line x1="243.60" y1="2048.40" x2="255.80" y2="2048.40" stroke-width="3.0"/>
<text transform="translate(240.80,2059.30) scale(1.0,1)" font-size="32.5" text-anchor="end">1.0</text>
<line x1="243.60" y1="2124.80" x2="255.80" y2="2124.80" stroke-width="3.0"/>
<text transform="translate(240.80,2135.70) scale(1.0,1)" font-size="32.5" text-anchor="end">0.5</text>
<line x1="243.60" y1="2201.30" x2="255.80" y2="2201.30" stroke-width="3.0"/>
<text transform="translate(240.80,2212.20) scale(1.0,1)" font-size="32.5" text-anchor="end">0</text>
<line x1="267.60" y1="2201.30" x2="986.50" y2="2201.30" stroke-width="3.0"/>
<rect x="274.40" y="2050.00" width="28.50" height="149.80" fill="#fff" stroke="#000" stroke-width="3.0"/>
<line x1="288.40" y1="2048.50" x2="288.40" y2="2012.50" stroke-width="3.0"/>
<line x1="279.90" y1="2012.50" x2="296.90" y2="2012.50" stroke-width="3.0"/>
<rect x="302.50" y="2143.50" width="32.70" height="57.80" fill="#000"/>
<line x1="318.90" y1="2143.50" x2="318.90" y2="2123.50" stroke-width="3.0"/>
<line x1="310.40" y1="2123.50" x2="327.40" y2="2123.50" stroke-width="3.0"/>
<text transform="translate(320.80,2121.75) scale(1.12,1)" font-size="33.5" text-anchor="middle" letter-spacing="1.5">*</text>
<text transform="translate(318.90,2232.00) scale(1.0,1) rotate(-34.5)" font-size="32.5" text-anchor="end" letter-spacing="0.5">TNF<tspan font-family="Liberation Serif, DejaVu Serif, serif" font-size="35">α</tspan></text>
<rect x="365.66" y="2050.00" width="28.50" height="149.80" fill="#fff" stroke="#000" stroke-width="3.0"/>
<line x1="379.66" y1="2048.50" x2="379.66" y2="2003.50" stroke-width="3.0"/>
<line x1="371.16" y1="2003.50" x2="388.16" y2="2003.50" stroke-width="3.0"/>
<rect x="393.76" y="2119.50" width="32.70" height="81.80" fill="#000"/>
<line x1="410.16" y1="2119.50" x2="410.16" y2="2108.50" stroke-width="3.0"/>
<line x1="401.66" y1="2108.50" x2="418.66" y2="2108.50" stroke-width="3.0"/>
<text transform="translate(412.06,2108.25) scale(1.12,1)" font-size="33.5" text-anchor="middle" letter-spacing="1.5">*</text>
<text transform="translate(410.16,2232.00) scale(1.0,1) rotate(-34.5)" font-size="32.5" text-anchor="end" letter-spacing="0.5">IL-1<tspan font-family="Liberation Serif, DejaVu Serif, serif" font-size="30">β</tspan></text>
<rect x="456.92" y="2050.00" width="28.50" height="149.80" fill="#fff" stroke="#000" stroke-width="3.0"/>
<line x1="470.92" y1="2048.50" x2="470.92" y2="2009.50" stroke-width="3.0"/>
<line x1="462.42" y1="2009.50" x2="479.42" y2="2009.50" stroke-width="3.0"/>
<rect x="485.02" y="2128.50" width="32.70" height="72.80" fill="#000"/>
<line x1="501.42" y1="2128.50" x2="501.42" y2="2112.50" stroke-width="3.0"/>
<line x1="492.92" y1="2112.50" x2="509.92" y2="2112.50" stroke-width="3.0"/>
<text transform="translate(503.32,2113.25) scale(1.12,1)" font-size="33.5" text-anchor="middle" letter-spacing="1.5">*</text>
<text transform="translate(501.42,2232.00) scale(1.0,1) rotate(-34.5)" font-size="32.5" text-anchor="end" letter-spacing="0.5">IL-2</text>
<rect x="548.18" y="2050.00" width="28.50" height="149.80" fill="#fff" stroke="#000" stroke-width="3.0"/>
<line x1="562.18" y1="2048.50" x2="562.18" y2="1992.50" stroke-width="3.0"/>
<line x1="553.68" y1="1992.50" x2="570.68" y2="1992.50" stroke-width="3.0"/>
<rect x="576.28" y="2180.30" width="32.70" height="21.00" fill="#000"/>
<line x1="592.68" y1="2180.30" x2="592.68" y2="2175.00" stroke-width="3.0"/>
<line x1="584.18" y1="2175.00" x2="601.18" y2="2175.00" stroke-width="3.0"/>
<text transform="translate(594.58,2176.75) scale(1.12,1)" font-size="33.5" text-anchor="middle" letter-spacing="1.5">**</text>
<text transform="translate(592.68,2232.00) scale(1.0,1) rotate(-34.5)" font-size="32.5" text-anchor="end" letter-spacing="0.5">IL-4</text>
<rect x="639.44" y="2050.00" width="28.50" height="149.80" fill="#fff" stroke="#000" stroke-width="3.0"/>
<line x1="653.44" y1="2048.50" x2="653.44" y2="2009.50" stroke-width="3.0"/>
<line x1="644.94" y1="2009.50" x2="661.94" y2="2009.50" stroke-width="3.0"/>
<rect x="667.54" y="2132.00" width="32.70" height="69.30" fill="#000"/>
<line x1="683.94" y1="2132.00" x2="683.94" y2="2119.90" stroke-width="3.0"/>
<line x1="675.44" y1="2119.90" x2="692.44" y2="2119.90" stroke-width="3.0"/>
<text transform="translate(685.84,2122.75) scale(1.12,1)" font-size="33.5" text-anchor="middle" letter-spacing="1.5">**</text>
<text transform="translate(683.94,2232.00) scale(1.0,1) rotate(-34.5)" font-size="32.5" text-anchor="end" letter-spacing="0.5">IL-5</text>
<rect x="730.70" y="2050.00" width="28.50" height="149.80" fill="#fff" stroke="#000" stroke-width="3.0"/>
<line x1="744.70" y1="2048.50" x2="744.70" y2="2011.00" stroke-width="3.0"/>
<line x1="736.20" y1="2011.00" x2="753.20" y2="2011.00" stroke-width="3.0"/>
<rect x="758.80" y="2132.60" width="32.70" height="68.70" fill="#000"/>
<line x1="775.20" y1="2132.60" x2="775.20" y2="2116.70" stroke-width="3.0"/>
<line x1="766.70" y1="2116.70" x2="783.70" y2="2116.70" stroke-width="3.0"/>
<text transform="translate(777.10,2117.55) scale(1.12,1)" font-size="33.5" text-anchor="middle" letter-spacing="1.5">*</text>
<text transform="translate(775.20,2232.00) scale(1.0,1) rotate(-34.5)" font-size="32.5" text-anchor="end" letter-spacing="0.5">IL-6</text>
<rect x="821.96" y="2050.00" width="28.50" height="149.80" fill="#fff" stroke="#000" stroke-width="3.0"/>
<line x1="835.96" y1="2048.50" x2="835.96" y2="2012.00" stroke-width="3.0"/>
<line x1="827.46" y1="2012.00" x2="844.46" y2="2012.00" stroke-width="3.0"/>
<rect x="850.06" y="2145.90" width="32.70" height="55.40" fill="#000"/>
<line x1="866.46" y1="2145.90" x2="866.46" y2="2136.30" stroke-width="3.0"/>
<line x1="857.96" y1="2136.30" x2="874.96" y2="2136.30" stroke-width="3.0"/>
<text transform="translate(868.36,2136.05) scale(1.12,1)" font-size="33.5" text-anchor="middle" letter-spacing="1.5">*</text>
<text transform="translate(867.96,2230.50) scale(1.0,1) rotate(-34.5)" font-size="32.5" text-anchor="end" letter-spacing="0.5">INF<tspan font-family="Liberation Serif, DejaVu Serif, serif" font-size="30">γ</tspan></text>
<rect x="913.22" y="2050.00" width="28.50" height="149.80" fill="#fff" stroke="#000" stroke-width="3.0"/>
<line x1="927.22" y1="2048.50" x2="927.22" y2="2026.00" stroke-width="3.0"/>
<line x1="918.72" y1="2026.00" x2="935.72" y2="2026.00" stroke-width="3.0"/>
<rect x="941.32" y="2133.00" width="32.70" height="68.30" fill="#000"/>
<line x1="957.72" y1="2133.00" x2="957.72" y2="2125.70" stroke-width="3.0"/>
<line x1="949.22" y1="2125.70" x2="966.22" y2="2125.70" stroke-width="3.0"/>
<text transform="translate(959.62,2126.55) scale(1.12,1)" font-size="33.5" text-anchor="middle" letter-spacing="1.5">**</text>
<text transform="translate(959.22,2224.50) scale(1.0,1) rotate(-34.5)" font-size="32.5" text-anchor="end" letter-spacing="0.5">KC/GRO</text>
<text transform="translate(135.60,2086.40) scale(1.0,1) rotate(-90)" font-size="32.5" text-anchor="middle">Relative protein levels</text>
<text transform="translate(175.30,2087.00) scale(1.0,1) rotate(-90)" font-size="32.5" text-anchor="middle" letter-spacing="0.45">(arbitrary units)</text>
</g>
</svg>
</body></html>
